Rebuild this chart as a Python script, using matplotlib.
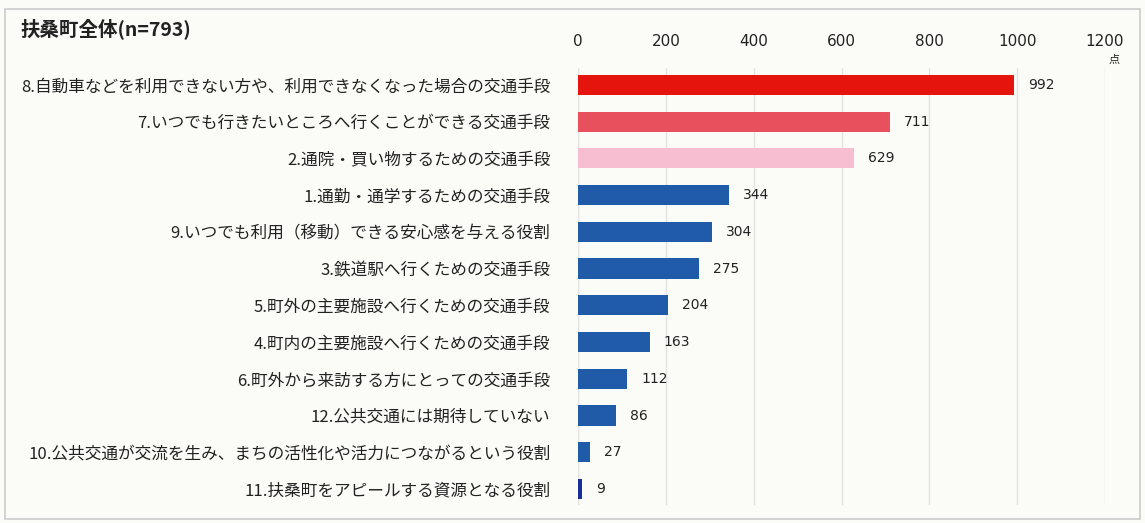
import matplotlib
matplotlib.use("Agg")
import matplotlib.pyplot as plt
from matplotlib.patches import Rectangle

plt.rcParams["font.family"] = ["Noto Sans CJK JP", "DejaVu Sans"]

# データ (上から順)
labels = [
    "8.自動車などを利用できない方や、利用できなくなった場合の交通手段",
    "7.いつでも行きたいところへ行くことができる交通手段",
    "2.通院・買い物するための交通手段",
    "1.通勤・通学するための交通手段",
    "9.いつでも利用（移動）できる安心感を与える役割",
    "3.鉄道駅へ行くための交通手段",
    "5.町外の主要施設へ行くための交通手段",
    "4.町内の主要施設へ行くための交通手段",
    "6.町外から来訪する方にとっての交通手段",
    "12.公共交通には期待していない",
    "10.公共交通が交流を生み、まちの活性化や活力につながるという役割",
    "11.扶桑町をアピールする資源となる役割",
]
values = [992, 711, 629, 344, 304, 275, 204, 163, 112, 86, 27, 9]
colors = ["#E5140D", "#E9505E", "#F6BED0"] + ["#1F5BA8"] * 8 + ["#1A2E9A"]
xticks = [0, 200, 400, 600, 800, 1000, 1200]

fig = plt.figure(figsize=(11.45, 5.23), dpi=100, facecolor="#FBFBF8")
ax = fig.add_axes([0.505, 0.034, 0.46, 0.836])
ax.set_facecolor("#FBFBF8")

ypos = list(range(len(values)))
ax.barh(ypos, values, height=0.55, color=colors, zorder=3)
for y, v in zip(ypos, values):
    ax.text(v + 32, y, str(v), va="center", ha="left", fontsize=10,
            color="#222222", family=["DejaVu Sans"])

ax.set_ylim(len(values) - 0.56, -0.46)
ax.set_xlim(0, 1200)
ax.set_yticks(ypos)
ax.set_yticklabels(labels, fontsize=12, color="#222222")
ax.tick_params(axis="y", length=0, pad=20)
ax.xaxis.tick_top()
ax.set_xticks(xticks)
ax.set_xticklabels([str(t) for t in xticks], fontsize=11, color="#222222",
                   family=["DejaVu Sans"])
ax.tick_params(axis="x", length=0, pad=14)
ax.grid(axis="x", color="#E2E2E2", linewidth=1.0, zorder=0)
for s in ax.spines.values():
    s.set_visible(False)
ax.axvline(0, color="#E2E2E2", linewidth=1.0, zorder=0)

fig.text(0.968, 0.885, "点", fontsize=8, ha="left", va="center", color="#222222")
fig.text(0.018, 0.945, "扶桑町全体(n=793)", fontsize=14, fontweight="bold",
         ha="left", va="center", color="#222222")

# 外枠
fig.patches.append(Rectangle((0.004, 0.008), 0.992, 0.975, transform=fig.transFigure,
                             fill=False, edgecolor="#CCCCCC", linewidth=1.2))

fig.savefig("out.png", dpi=100, facecolor=fig.get_facecolor())
